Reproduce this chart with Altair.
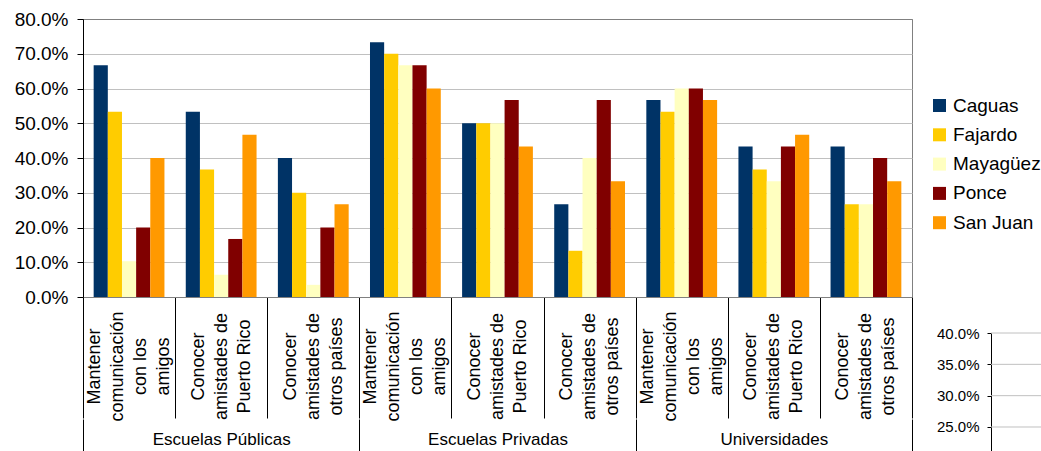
import altair as alt
import pandas as pd

groups = ["Escuelas Públicas", "Escuelas Privadas", "Universidades"]
category_lines = [
    ["Mantener", "comunicación", "con los", "amigos"],
    ["Conocer", "amistades de", "Puerto Rico"],
    ["Conocer", "amistades de", "otros países"],
]
cities = ["Caguas", "Fajardo", "Mayagüez", "Ponce", "San Juan"]
colors = ["#003366", "#FFCC00", "#FFFFC0", "#800000", "#FF9900"]

# values in %, order: group-major (Públicas, Privadas, Universidades) x category
caguas = [66.7, 53.3, 40.0, 73.3, 50.0, 26.7, 56.7, 43.3, 43.3]
fajardo = [53.3, 36.7, 30.0, 70.0, 50.0, 13.3, 53.3, 36.7, 26.7]
mayaguez = [10.3, 6.4, 3.5, 66.7, 50.0, 40.0, 60.0, 33.3, 26.7]
ponce = [20.0, 16.7, 20.0, 66.7, 56.7, 56.7, 60.0, 43.3, 40.0]
san_juan = [40.0, 46.7, 26.7, 60.0, 43.3, 33.3, 56.7, 46.7, 33.3]

y_ticks = [0.0, 0.1, 0.2, 0.3, 0.4, 0.5, 0.6, 0.7, 0.8]
side_ticks = [0.25, 0.30, 0.35, 0.40]

series = {"Caguas": caguas, "Fajardo": fajardo, "Mayagüez": mayaguez,
          "Ponce": ponce, "San Juan": san_juan}

keys = []
key_group = []
for g in groups:
    for lines in category_lines:
        keys.append(g + "|" + "|".join(lines))
        key_group.append(g)

rows = []
for city in cities:
    for k, key in enumerate(keys):
        rows.append({"key": key, "group": key_group[k], "city": city,
                     "value": series[city][k] / 100.0})
df = pd.DataFrame(rows)

FONT = "Liberation Sans"
LH = 23

bars = alt.Chart(df).mark_bar().encode(
    x=alt.X("key:N", sort=keys,
            scale=alt.Scale(paddingInner=0, paddingOuter=0),
            axis=alt.Axis(title=None, orient="bottom",
                          labelExpr="slice(split(datum.value, '|'), 1)",
                          labelAngle=270, labelAlign="center", labelBaseline="middle",
                          labelPadding=-52, labelFontSize=18, labelLineHeight=LH,
                          labelOffset=alt.condition("length(split(datum.value, '|')) > 4",
                                                    alt.value(-1.5 * LH),
                                                    alt.value(-1.0 * LH)),
                          labelFont=FONT, labelColor="black", labelOverlap=False,
                          tickBand="extent", tickSize=121, tickColor="black",
                          domainColor="#808080")),
    xOffset=alt.XOffset("city:N", sort=cities,
                        scale=alt.Scale(paddingInner=0, paddingOuter=0.753)),
    y=alt.Y("value:Q", scale=alt.Scale(domain=[0, 0.8], nice=False),
            axis=alt.Axis(title=None, values=y_ticks, format=".1%",
                          tickSize=6, labelPadding=9, labelFontSize=19,
                          labelFont=FONT, labelColor="black",
                          domainColor="black", tickColor="black",
                          gridColor=alt.condition("datum.value >= 0.8",
                                                  alt.value("#808080"),
                                                  alt.value("#c0c0c0")))),
    color=alt.Color("city:N", sort=cities,
                    scale=alt.Scale(domain=cities, range=colors),
                    legend=alt.Legend(title=None, orient="none", legendX=847, legendY=77,
                                      symbolType="square", symbolSize=169,
                                      symbolStrokeWidth=0, labelFontSize=19,
                                      labelFont=FONT, labelColor="black",
                                      rowPadding=9.3, labelOffset=4, padding=0)),
)

grp_df = pd.DataFrame({"group": groups})
grp = alt.Chart(grp_df).mark_text(opacity=0).encode(
    x=alt.X("group:N", sort=groups,
            scale=alt.Scale(type="band", paddingInner=0, paddingOuter=0),
            axis=alt.Axis(title=None, orient="bottom", offset=122, domain=False,
                          tickBand="extent", tickSize=32, tickColor="black",
                          labelAngle=0, labelPadding=-20, labelFontSize=17,
                          labelFont=FONT, labelColor="black", labelBaseline="top")),
    text="group:N",
)

side_df = pd.DataFrame({"v": side_ticks})
side = alt.Chart(side_df).mark_rule(color="#c0c0c0").encode(
    y=alt.Y("v:Q",
            scale=alt.Scale(domain=[0.2117, 0.40], range=[432, 314], nice=False, zero=False),
            axis=alt.Axis(title=None, orient="left", offset=-908, values=side_ticks,
                          format=".1%", grid=False, tickSize=4, labelPadding=8,
                          labelFontSize=15, labelFont=FONT, labelColor="black",
                          domainColor="black", tickColor="black")),
    x=alt.value(908),
    x2=alt.value(965),
)

chart = alt.layer(bars, grp, side).resolve_scale(
    x="independent", y="independent"
).properties(
    width=829, height=278,
    autosize=alt.AutoSizeParams(type="none"),
    padding={"left": 83, "top": 19, "right": 129, "bottom": 154},
).configure(font=FONT).configure_view(stroke="#808080", strokeWidth=1)

chart.save("out.html", embed_options={"renderer": "svg", "actions": False})
